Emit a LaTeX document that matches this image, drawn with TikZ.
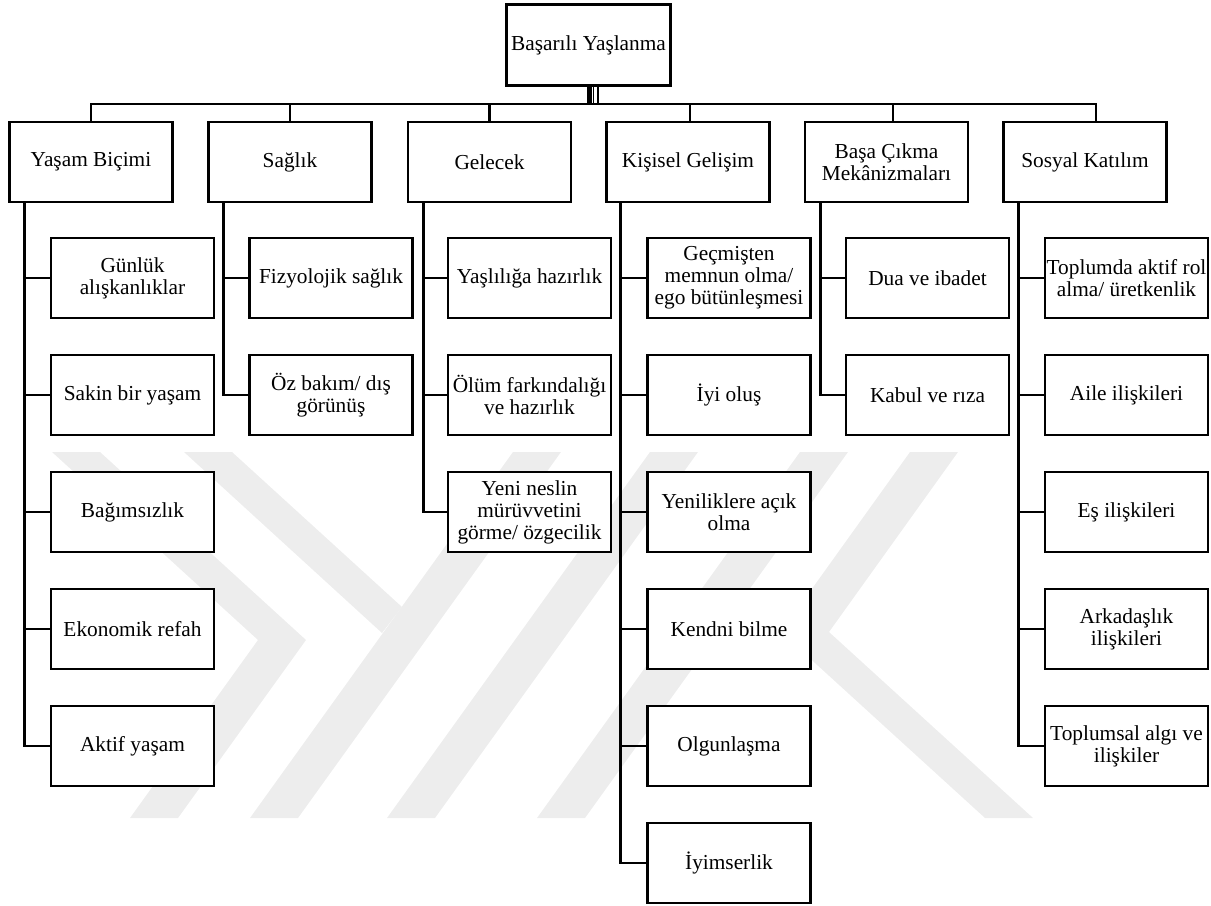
\documentclass[tikz,border=0pt]{standalone}
\usepackage{fontspec}
\setmainfont{Liberation Serif}

\begin{document}
\begin{tikzpicture}[x=0.75pt, y=-0.75pt,
  every node/.style={font=\fontsize{16}{16.5}\selectfont},
  kutu/.style={draw, fill=white, line width=1.8pt, align=center, inner sep=0.5pt,
    minimum width=122pt, minimum height=60pt},
  bag/.style={line width=2pt},
  filigran/.style={fill=black!7}]
  \useasboundingbox (0,0) rectangle (1211,906);

  % --- Filigran (arka plan) ---
  \fill[filigran] (52,452) -- (100,452) -- (306,640) -- (178,818) -- (130,818) -- (258,640) -- cycle;
  \fill[filigran] (513,452) -- (561,452) -- (298,818) -- (250,818) -- cycle;
  \fill[filigran] (184,452) -- (232,452) -- (402,607) -- (382,633) -- cycle;
  \fill[filigran] (650,452) -- (698,452) -- (435,818) -- (387,818) -- cycle;
  \fill[filigran] (800,452) -- (848,452) -- (585,818) -- (537,818) -- cycle;
  \fill[filigran] (910,452) -- (958,452) -- (829,632) -- (1033,818) -- (985,818) -- (781,632) -- cycle;

  % --- Kok ---
  \node[kutu, minimum width=123pt, minimum height=61pt] (kok) at (588.5,45) {Başarılı Yaşlanma};

  % --- Boyutlar ---
  \node[kutu] (yasam) at (91,162) {Yaşam Biçimi};
  \node[kutu] (saglik) at (290,162) {Sağlık};
  \node[kutu] (gelecek) at (489.5,162) {Gelecek};
  \node[kutu] (gelisim) at (688,162) {Kişisel Gelişim};
  \node[kutu] (basa) at (886.5,162) {Başa Çıkma\\Mekânizmaları};
  \node[kutu] (sosyal) at (1085,162) {Sosyal Katılım};

  % Yasam Bicimi
  \node[kutu] (y1) at (132.5,278) {Günlük\\alışkanlıklar};
  \node[kutu] (y2) at (132.5,395) {Sakin bir yaşam};
  \node[kutu] (y3) at (132.5,512) {Bağımsızlık};
  \node[kutu] (y4) at (132.5,629) {Ekonomik refah};
  \node[kutu] (y5) at (132.5,746) {Aktif yaşam};
  % Saglik
  \node[kutu] (s1) at (331,278) {Fizyolojik sağlık};
  \node[kutu] (s2) at (331,395) {Öz bakım/ dış\\görünüş};
  % Gelecek
  \node[kutu] (g1) at (529.5,278) {Yaşlılığa hazırlık};
  \node[kutu] (g2) at (529.5,395) {Ölüm farkındalığı\\ve hazırlık};
  \node[kutu] (g3) at (529.5,512) {Yeni neslin\\mürüvvetini\\görme/ özgecilik};
  % Kisisel Gelisim
  \node[kutu] (k1) at (729,278) {Geçmişten\\memnun olma/\\ego bütünleşmesi};
  \node[kutu] (k2) at (729,395) {İyi oluş};
  \node[kutu] (k3) at (729,512) {Yeniliklere açık\\olma};
  \node[kutu] (k4) at (729,629) {Kendni bilme};
  \node[kutu] (k5) at (729,746) {Olgunlaşma};
  \node[kutu] (k6) at (729,863) {İyimserlik};
  % Basa Cikma
  \node[kutu] (b1) at (927.5,278) {Dua ve ibadet};
  \node[kutu] (b2) at (927.5,395) {Kabul ve rıza};
  % Sosyal Katilim
  \node[kutu] (t1) at (1126.5,278) {Toplumda aktif rol\\alma/ üretkenlik};
  \node[kutu] (t2) at (1126.5,395) {Aile ilişkileri};
  \node[kutu] (t3) at (1126.5,512) {Eş ilişkileri};
  \node[kutu] (t4) at (1126.5,629) {Arkadaşlık\\ilişkileri};
  \node[kutu] (t5) at (1126.5,746) {Toplumsal algı ve\\ilişkiler};

  % --- Baglantilar: kok -> boyutlar ---
  \coordinate (hat) at (0,104);
  \coordinate (r1) at ([xshift=0.5pt]kok.south);
  \coordinate (r2) at ([xshift=3.75pt]kok.south);
  \coordinate (r3) at ([xshift=7pt]kok.south);
  \draw[line width=3.75pt] (r1) -- (r1 |- hat);
  \draw[line width=1.2pt] (r2) -- (r2 |- hat);
  \draw[line width=1.7pt] (r3) -- (r3 |- hat);
  \coordinate (d4) at ([xshift=1.5pt]gelisim.north);
  \coordinate (d5) at ([xshift=4.9pt]basa.north);
  \coordinate (d6) at ([xshift=8.2pt]sosyal.north);
  \draw[bag] (yasam.north) -- (yasam.north |- hat) -- (d6 |- hat) -- (d6);
  \draw[bag] (saglik.north) -- (saglik.north |- hat);
  \draw[bag] (gelecek.north) -- (gelecek.north |- hat);
  \draw[bag] (d4) -- (d4 |- hat);
  \draw[bag] (d5) -- (d5 |- hat);

  % --- Baglantilar: boyutlar -> alt basliklar ---
  \coordinate (ya) at ([xshift=12.2pt]yasam.south west);
  \coordinate (sa) at ([xshift=12.2pt]saglik.south west);
  \coordinate (ge) at ([xshift=12.2pt]gelecek.south west);
  \coordinate (ki) at ([xshift=11.2pt]gelisim.south west);
  \coordinate (ba) at ([xshift=12.2pt]basa.south west);
  \coordinate (so) at ([xshift=12.2pt]sosyal.south west);
  \draw[bag] (ya) |- (y5.west) (ya |- y1.west) -- (y1.west) (ya |- y2.west) -- (y2.west)
    (ya |- y3.west) -- (y3.west) (ya |- y4.west) -- (y4.west);
  \draw[bag] (sa) |- (s2.west) (sa |- s1.west) -- (s1.west);
  \draw[bag] (ge) |- (g3.west) (ge |- g1.west) -- (g1.west) (ge |- g2.west) -- (g2.west);
  \draw[bag] (ki) |- (k6.west) (ki |- k1.west) -- (k1.west) (ki |- k2.west) -- (k2.west)
    (ki |- k3.west) -- (k3.west) (ki |- k4.west) -- (k4.west) (ki |- k5.west) -- (k5.west);
  \draw[bag] (ba) |- (b2.west) (ba |- b1.west) -- (b1.west);
  \draw[bag] (so) |- (t5.west) (so |- t1.west) -- (t1.west) (so |- t2.west) -- (t2.west)
    (so |- t3.west) -- (t3.west) (so |- t4.west) -- (t4.west);
\end{tikzpicture}
\end{document}
